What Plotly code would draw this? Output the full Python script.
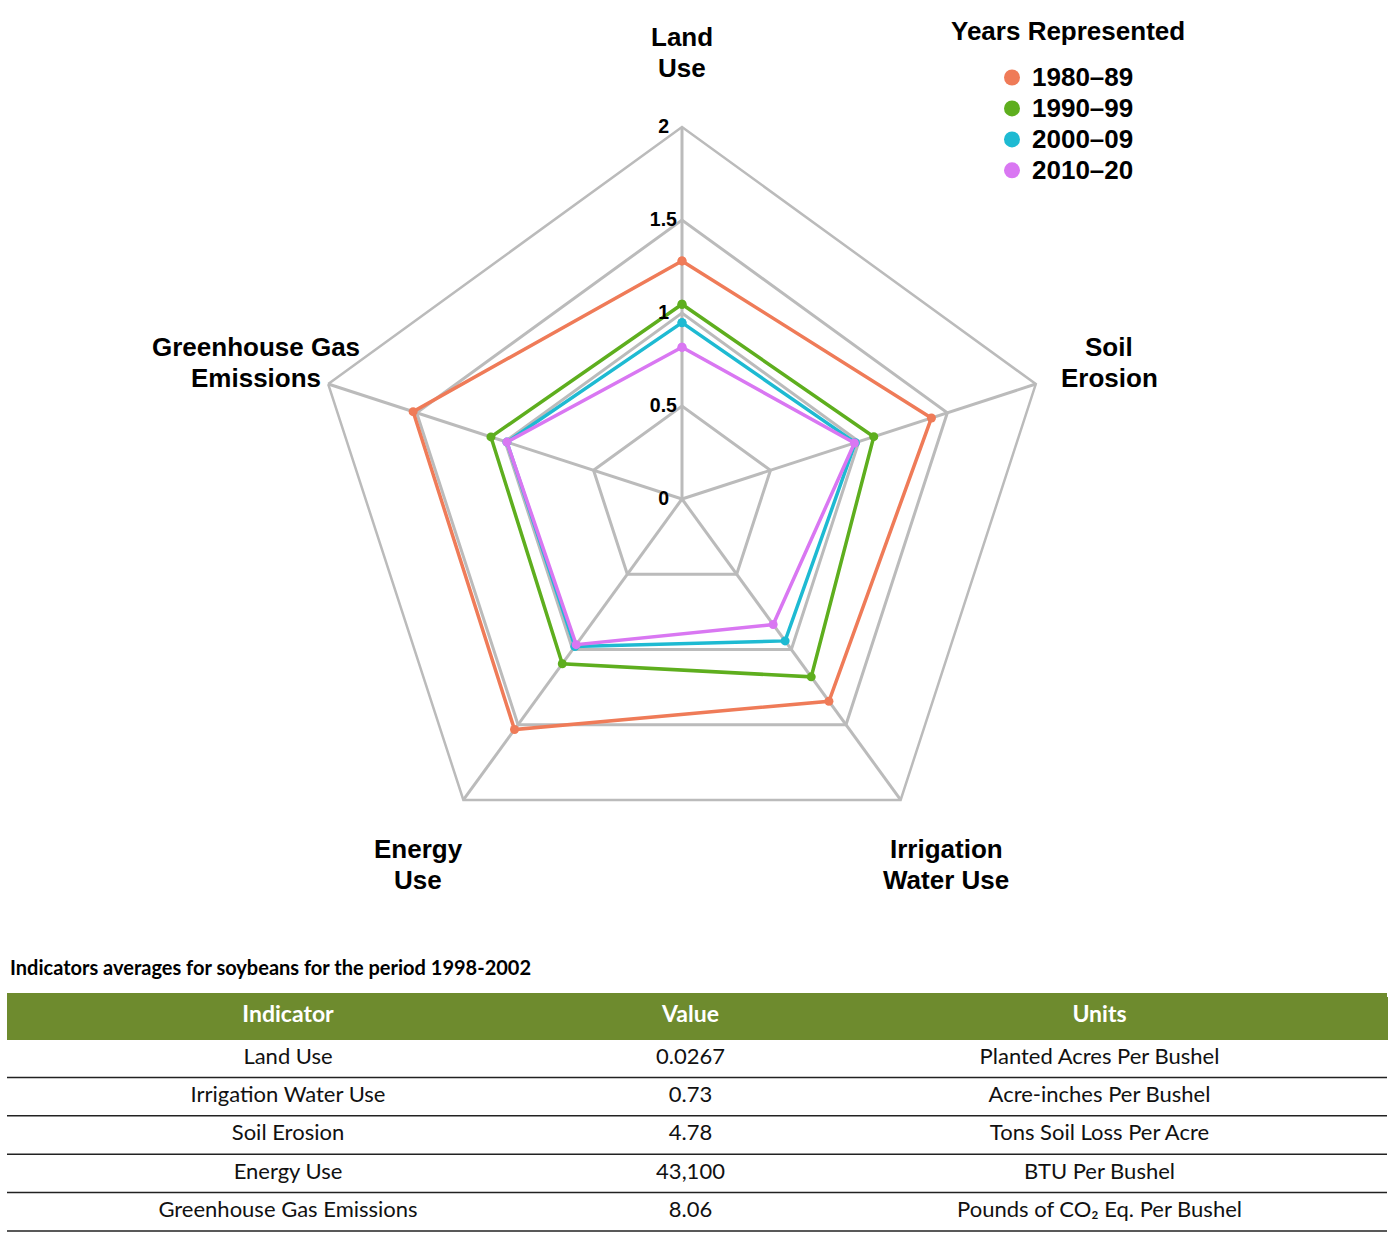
import plotly.graph_objects as go

W, H = 1394, 1240

categories = ["Land Use", "Soil Erosion", "Irrigation Water Use", "Energy Use", "Greenhouse Gas Emissions"]
cat_label_lines = [["Land", "Use"], ["Soil", "Erosion"], ["Irrigation", "Water Use"], ["Energy", "Use"],
                   ["Greenhouse Gas", "Emissions"]]
series_names = ["1980\u201389", "1990\u201399", "2000\u201309", "2010\u201320"]
r_1980s = [1.28, 1.41, 1.344, 1.532, 1.52]
r_1990s = [1.047, 1.084, 1.182, 1.095, 1.08]
r_2000s = [0.948, 0.98, 0.943, 0.98, 0.99]
r_2010s = [0.816, 0.975, 0.834, 0.968, 0.99]
series_values = [r_1980s, r_1990s, r_2000s, r_2010s]
colors = ["#EF7B58", "#5EAE1E", "#1EBAD2", "#D977F2"]
radial_ticks = [0, 0.5, 1, 1.5, 2]

table_title = "Indicators averages for soybeans for the period 1998-2002"
tbl_headers = ["Indicator", "Value", "Units"]
tbl_indicator = ["Land Use", "Irrigation Water Use", "Soil Erosion", "Energy Use", "Greenhouse Gas Emissions"]
tbl_value = ["0.0267", "0.73", "4.78", "43,100", "8.06"]
tbl_units = ["Planted Acres Per Bushel", "Acre-inches Per Bushel", "Tons Soil Loss Per Acre",
             "BTU Per Bushel", "Pounds of CO\u2082 Eq. Per Bushel"]

LABEL_FONT = "Liberation Sans, Arial, sans-serif"
TABLE_FONT = "Source Sans Pro, Lato, sans-serif"
GRID = "#BBBBBB"
HEADER_GREEN = "#6E8B2E"

fig = go.Figure()

for name, vals, col in zip(series_names, series_values, colors):
    fig.add_trace(go.Scatterpolar(
        r=vals + vals[:1], theta=categories + categories[:1],
        mode="lines+markers", name=name, showlegend=False,
        line=dict(color=col, width=3.5), marker=dict(color=col, size=9),
    ))

# legend-only entries (circle markers); larger text, compact row spacing
for name, col in zip(series_names, colors):
    fig.add_trace(go.Scatterpolar(
        r=[None], theta=[None], mode="markers",
        name='<span style="font-size:26px">%s</span>' % name,
        marker=dict(color=col, size=16), showlegend=True,
    ))


def tick_label(v):
    s = "%g" % v
    # visually centre the labels left of the axis
    return s + ("\u200a" if len(s) > 1 else "\u2009\u2009\u200a")


# polar domain: center (682,499), radius 372 px
cx, cy, rad = 682, 499, 372
fig.update_layout(
    polar=dict(
        domain=dict(x=[(cx - rad) / W, (cx + rad) / W], y=[1 - (cy + rad) / H, 1 - (cy - rad) / H]),
        gridshape="linear",
        bgcolor="white",
        radialaxis=dict(range=[0, 2], tickvals=radial_ticks, ticktext=[tick_label(t) for t in radial_ticks],
                        showline=False, ticks="", gridcolor=GRID, gridwidth=2.5, angle=90,
                        side="counterclockwise", tickangle=90,
                        tickfont=dict(family=LABEL_FONT, size=19.5, color="black", weight="bold")),
        angularaxis=dict(rotation=90, direction="clockwise", showticklabels=False, ticks="",
                         showline=True, linecolor=GRID, linewidth=2.5, gridcolor=GRID, gridwidth=2.5),
    ),
)

# category labels (one annotation per line for tight line spacing)
label_pos = [(682, 37), (1109, 347), (946, 849), (418, 849), (256, 347)]
line_gap = 31
for lines, (x, y) in zip(cat_label_lines, label_pos):
    for i, ln in enumerate(lines):
        fig.add_annotation(x=x / W, y=1 - (y + i * line_gap) / H, xref="paper", yref="paper", text=ln,
                           showarrow=False,
                           font=dict(family=LABEL_FONT, size=26, color="black", weight="bold"),
                           xanchor="center", yanchor="middle", align="center")

# legend title
fig.add_annotation(x=1068 / W, y=1 - 31 / H, xref="paper", yref="paper", text="Years Represented",
                   showarrow=False, font=dict(family=LABEL_FONT, size=26, color="black", weight="bold"),
                   xanchor="center", yanchor="middle")

# table title
fig.add_annotation(x=8 / W, y=1 - 967 / H, xref="paper", yref="paper", text=table_title,
                   showarrow=False, font=dict(family=TABLE_FONT, size=20, color="black", weight="bold"),
                   xanchor="left", yanchor="middle")

# table (green band above the trace keeps header text visually centred)
band_top = 993
tbl_top = 997
hdr_h = 42
row_h = 38.4
tx0, tx1 = 7, 1387
fig.add_shape(type="rect", xref="paper", yref="paper", x0=tx0 / W, x1=tx1 / W,
              y0=1 - (tbl_top + 1) / H, y1=1 - band_top / H, fillcolor=HEADER_GREEN, line=dict(width=0),
              layer="below")
fig.add_trace(go.Table(
    domain=dict(x=[tx0 / W, tx1 / W], y=[0, 1 - tbl_top / H]),
    columnwidth=[562, 243, 575],
    header=dict(values=tbl_headers, fill_color=HEADER_GREEN, height=hdr_h, align="center",
                line=dict(color=HEADER_GREEN, width=1),
                font=dict(family=TABLE_FONT, size=23, color="white", weight="bold")),
    cells=dict(values=[tbl_indicator, tbl_value, tbl_units], fill_color="white", height=row_h,
               align="center", line=dict(color="white", width=1),
               font=dict(family=TABLE_FONT, size=22, color="#111111")),
))

for k in range(1, len(tbl_indicator) + 1):
    ypx = tbl_top + hdr_h + row_h * k
    fig.add_shape(type="line", xref="paper", yref="paper", x0=tx0 / W, x1=tx1 / W,
                  y0=1 - ypx / H, y1=1 - ypx / H, line=dict(color="#222222", width=1.5))

fig.update_layout(
    width=W, height=H, margin=dict(l=0, r=0, t=0, b=0),
    paper_bgcolor="white", plot_bgcolor="white",
    showlegend=True,
    legend=dict(x=992 / W, y=1 - 57 / H, xanchor="left", yanchor="top",
                font=dict(family=LABEL_FONT, size=21.5, color="black", weight="bold"),
                itemsizing="trace", tracegroupgap=0, bgcolor="rgba(0,0,0,0)"),
)

fig.write_html("out.html")
